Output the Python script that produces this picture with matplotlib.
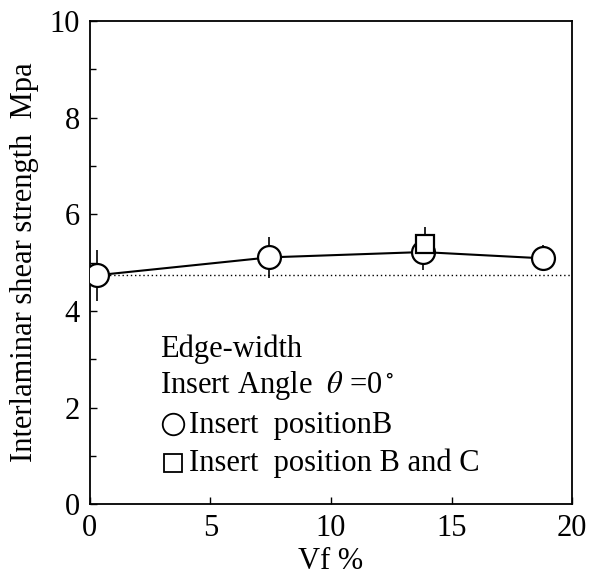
import numpy as np
import matplotlib
matplotlib.use("Agg")
import matplotlib.pyplot as plt
from matplotlib.ticker import MultipleLocator

plt.rcParams['font.family'] = ['Liberation Serif', 'DejaVu Serif']
plt.rcParams['mathtext.fontset'] = 'stix'

# data
vf_b = [0.3, 7.45, 13.8, 18.8]
ilss_b = [4.74, 5.11, 5.22, 5.09]
err_b = [0.53, 0.43, 0.38, 0.27]

vf_bc = [13.9]
ilss_bc = [5.39]
err_bc = [0.35]

baseline = ilss_b[0]

x_ticks = [0, 5, 10, 15, 20]
y_ticks = [0, 2, 4, 6, 8, 10]

fig = plt.figure(figsize=(5.91, 5.87), dpi=100)
ax = fig.add_axes([0.152, 0.141, 0.816, 0.823])

# dotted reference at the Vf=0 value
ax.plot([vf_b[0], 20], [baseline, baseline], linestyle=(0, (1, 2)), color='k', lw=1.0, zorder=1)

ax.errorbar(vf_b, ilss_b, yerr=err_b, fmt='none', ecolor='k', elinewidth=1.2, capsize=0, zorder=2)
ax.errorbar(vf_bc, ilss_bc, yerr=err_bc, fmt='none', ecolor='k', elinewidth=1.2, capsize=0, zorder=2)
ax.plot(vf_b, ilss_b, '-', color='k', lw=1.5, zorder=3)
ax.plot(vf_b, ilss_b, 'o', ms=16.5, mfc='white', mec='k', mew=1.6, zorder=4)
ax.plot(vf_bc, ilss_bc, 's', ms=13, mfc='white', mec='k', mew=1.6, zorder=5)

ax.set_xlim(0, 20)
ax.set_ylim(0, 10)
ax.set_xticks(x_ticks)
ax.set_yticks(y_ticks)
ax.yaxis.set_minor_locator(MultipleLocator(1))
ax.tick_params(axis='both', which='major', direction='in', length=5, width=1.0,
               labelsize=22, pad=7)
ax.tick_params(axis='y', which='minor', direction='in', length=4, width=1.0)
ax.tick_params(top=False, right=False)
for s in ax.spines.values():
    s.set_linewidth(1.3)

ax.set_xlabel('Vf %', fontsize=22, labelpad=3)
ax.set_ylabel('Interlaminar shear strength  Mpa', fontsize=22, labelpad=8)

# legend-like annotation block
fs = 22
ax.text(2.9, 3.05, 'Edge-width', fontsize=fs, va='baseline')
ax.text(2.9, 2.31, r'Insert Angle  $\theta$ =0$^\circ$', fontsize=fs, va='baseline')
ax.plot([3.44], [1.67], 'o', ms=15.5, mfc='none', mec='k', mew=1.3, clip_on=False)
ax.text(4.1, 1.48, 'Insert  positionB', fontsize=fs, va='baseline')
ax.plot([3.46], [0.85], 's', ms=13.5, mfc='none', mec='k', mew=1.3, clip_on=False)
ax.text(4.1, 0.69, 'Insert  position B and C', fontsize=fs, va='baseline')

fig.savefig('out.png', dpi=100)
